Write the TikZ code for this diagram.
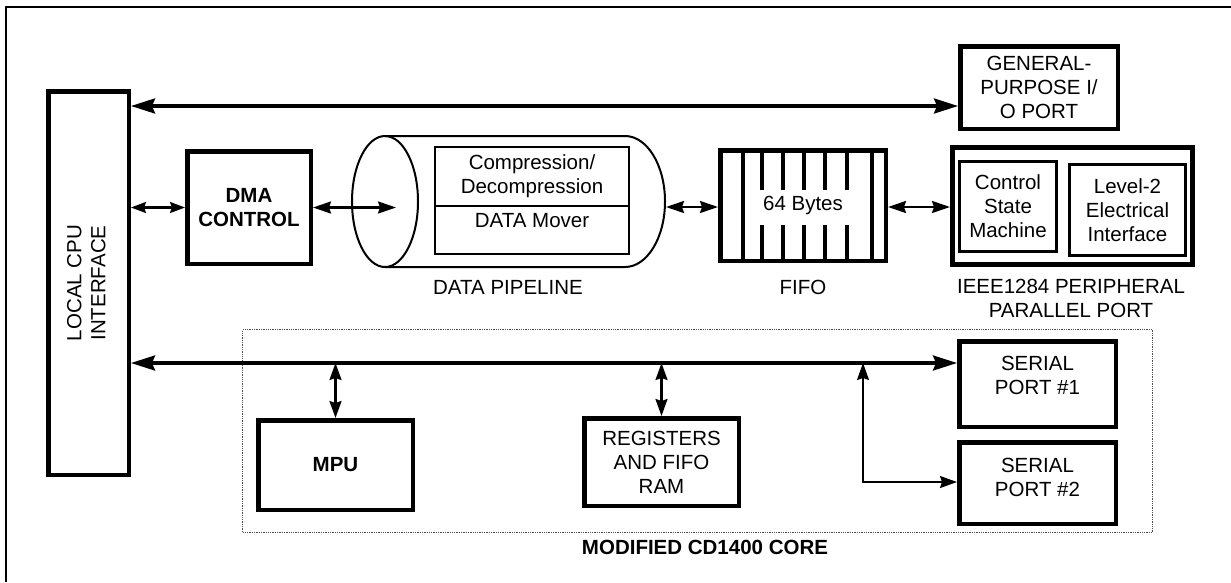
\documentclass[tikz,border=0pt]{standalone}
\usepackage{fontspec}
\setmainfont{Liberation Sans}
\usetikzlibrary{arrows.meta}
\newcommand{\fsz}{\fontsize{20.5}{24}\selectfont}
\begin{document}
\begin{tikzpicture}[x=1pt,y=-1pt,
  box/.style={draw, line width=4.5pt, inner sep=0pt, align=center, font=\fsz},
  inbox/.style={draw, line width=3pt, inner sep=0pt, align=center, font=\fsz},
  pipebox/.style={draw, line width=2pt, inner sep=0pt, align=center, font=\fsz, minimum width=194pt},
  lbl/.style={inner sep=0pt, align=center, font=\fsz},
  bigtips/.style={line width=3.2pt, {Stealth[length=24pt,width=15pt,inset=3pt]}-{Stealth[length=24pt,width=15pt,inset=3pt]}},
  midtips/.style={line width=2.2pt, {Stealth[length=18pt,width=12pt,inset=2pt]}-{Stealth[length=18pt,width=12pt,inset=2pt]}},
  smalltips/.style={line width=2.2pt, {Stealth[length=15pt,width=11pt,inset=2pt]}-{Stealth[length=15pt,width=11pt,inset=2pt]}},
  thintips/.style={line width=1.8pt, {Stealth[length=17pt,width=12pt,inset=2pt]}-{Stealth[length=17pt,width=12pt,inset=2pt]}},
  fifobar/.style={line width=4.5pt},
]
\useasboundingbox (0,0) rectangle (1231,582);
% outer frame
\draw[line width=2pt] (6,582) -- (6,7) -- (1231,7);

% modified core (dotted)
\node[draw=black!70, densely dotted, line width=1.3pt, minimum width=910pt, minimum height=203pt, inner sep=0pt] (core) at (697.5,431) {};
\node[lbl, font=\fsz\bfseries] (corelbl) at (705,547) {MODIFIED CD1400 CORE};

% boxes
\node[box, minimum width=80.5pt, minimum height=383.5pt] (cpu) at (88.5,283)
  {\rotatebox{90}{\begin{tabular}{@{}c@{}}LOCAL CPU\\INTERFACE\end{tabular}}};
\node[box, minimum width=157.5pt, minimum height=82.5pt] (gp) at (1039,87.5) {GENERAL-\\PURPOSE I/\\O PORT};
\node[box, font=\fsz\bfseries, minimum width=123.5pt, minimum height=112.5pt] (dma) at (249,207.5) {DMA\\CONTROL};
\node[box, minimum width=165.5pt, minimum height=110.5pt] (fifo) at (803,205.5) {64 Bytes};
\node[draw, line width=5pt, inner sep=0pt, minimum width=240pt, minimum height=117pt] (ieee) at (1072.5,206) {};
\node[inbox, minimum width=97pt, minimum height=90pt] (csm) at (1008,206.5) {Control\\State\\Machine};
\node[inbox, minimum width=116pt, minimum height=91pt] (lev) at (1127.5,210) {Level-2\\Electrical\\Interface};
\node[box, font=\fsz\bfseries, minimum width=154.5pt, minimum height=89.5pt] (mpu) at (335.5,465) {MPU};
\node[box, minimum width=154.5pt, minimum height=87.5pt] (reg) at (661.5,462) {REGISTERS\\AND FIFO\\RAM};
\node[box, minimum width=156.5pt, minimum height=85.5pt] (sp1) at (1037.5,384) {SERIAL\\PORT \#1\\[-6pt]};
\node[box, minimum width=156.5pt, minimum height=81.5pt] (sp2) at (1037.5,483) {SERIAL\\PORT \#2\\[-12pt]};

% FIFO bars
\foreach \x in {743,872} \draw[fifobar] (\x,0 |- fifo.north) -- (\x,0 |- fifo.south);
\foreach \x in {762,783,804,825,847} {
  \draw[fifobar] (\x,0 |- fifo.north) -- (\x,190);
  \draw[fifobar] (\x,225) -- (\x,0 |- fifo.south);
}

% data pipeline cylinder
\draw[line width=2pt] (385,201.5) ellipse [x radius=33pt, y radius=65.5pt];
\draw[line width=2pt] (385,136) -- (625,136) arc[start angle=90, end angle=-90, x radius=40pt, y radius=65.5pt] -- (385,267);
\node[pipebox, minimum height=59pt] (comp) at (532,176.5) {Compression/\\Decompression};
\node[pipebox, minimum height=48pt, text height=15pt, text depth=20pt] (mover) at (532,230) {DATA Mover};
\coordinate (pipeL) at (396,207);
\coordinate (pipeR) at (666,207);

% labels
\node[lbl] (pipelbl) at (508,287) {DATA PIPELINE};
\node[lbl] (fifolbl) at (803,287) {FIFO};
\node[lbl] (ieeelbl) at (1071,298.5) {IEEE1284 PERIPHERAL\\PARALLEL PORT};

% connectors
\coordinate (topbus) at (0,106);
\draw[bigtips] (cpu.east |- topbus) -- (gp.west |- topbus);
\draw[smalltips] (cpu.east |- dma.west) -- (dma.west);
\draw[midtips] (dma.east) -- (dma.east -| pipeL);
\draw[midtips] (pipeR) -- (pipeR -| fifo.west);
\draw[midtips] (fifo.east |- pipeR) -- (ieee.west |- pipeR);

\coordinate (botbus) at (0,363);
\draw[bigtips] (cpu.east |- botbus) -- (sp1.west |- botbus);
\draw[thintips, line width=2.2pt] (mpu.north |- botbus) -- (mpu.north);
\draw[thintips, line width=2.2pt] (reg.north |- botbus) -- (reg.north);
\coordinate (br) at (863,363);
\coordinate (brc) at (863,482);
\draw[thintips] (br) -- (brc) -- (sp2.west |- brc);
\end{tikzpicture}
\end{document}
